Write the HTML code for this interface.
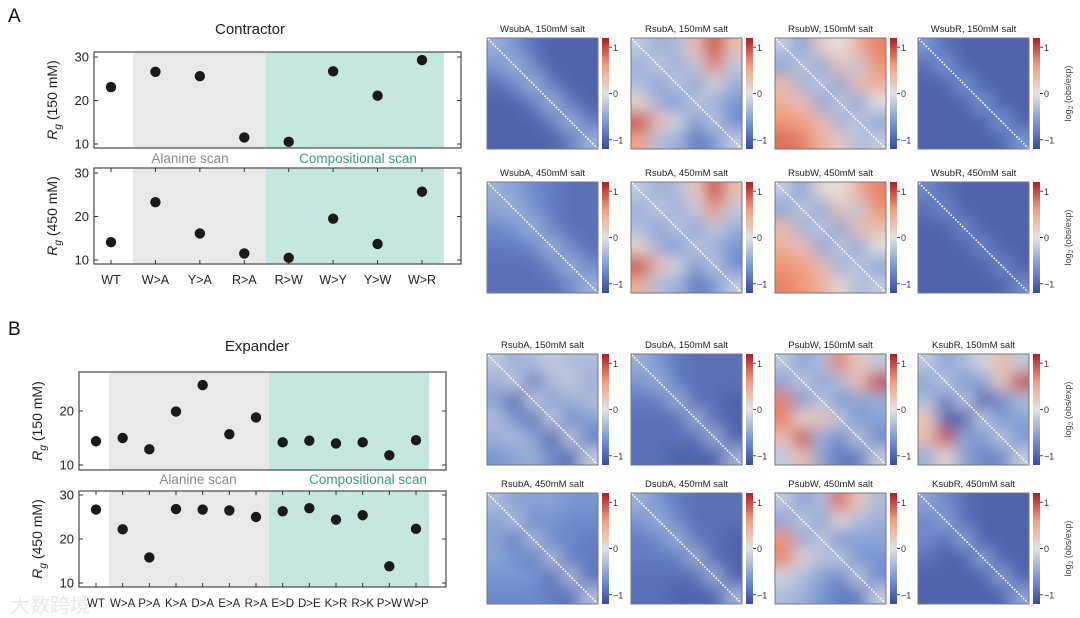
<!DOCTYPE html>
<html><head><meta charset="utf-8"><style>
body{margin:0;background:#fff;}
svg{display:block;font-family:"Liberation Sans","Noto Sans CJK SC",sans-serif;}
</style></head><body>
<svg id="fig" width="1080" height="618" viewBox="0 0 1080 618"></svg>
<script>
// ---- data: dot plots ----
const contractorCats = ["WT","W>A","Y>A","R>A","R>W","W>Y","Y>W","W>R"];
const contractor150 = [23.1,26.6,25.6,11.5,10.5,26.7,21.1,29.3];
const contractor450 = [14.1,23.3,16.1,11.5,10.5,19.5,13.7,25.7];
const expanderCats = ["WT","W>A","P>A","K>A","D>A","E>A","R>A","E>D","D>E","K>R","R>K","P>W","W>P"];
const expander150 = [14.4,15.0,12.9,19.9,24.8,15.7,18.8,14.2,14.5,14.0,14.2,11.8,14.6];
const expander450 = [26.7,22.2,15.8,26.8,26.7,26.5,25.0,26.3,27.0,24.4,25.4,13.8,22.3];
const ticks30 = [10,20,30];
const ticks20 = [10,20];
// ---- data: heatmaps (6x6 coarse grids, log2 obs/exp) ----
const mapTitles = ["WsubA, 150mM salt","RsubA, 150mM salt","RsubW, 150mM salt","WsubR, 150mM salt",
 "WsubA, 450mM salt","RsubA, 450mM salt","RsubW, 450mM salt","WsubR, 450mM salt",
 "RsubA, 150mM salt","DsubA, 150mM salt","PsubW, 150mM salt","KsubR, 150mM salt",
 "RsubA, 450mM salt","DsubA, 450mM salt","PsubW, 450mM salt","KsubR, 450mM salt"];
const mapW150=[[-0.4,-0.6,-0.9,-1,-1,-1],[-0.6,-0.4,-0.7,-1,-1,-1],[-0.9,-0.7,-0.4,-0.8,-1,-1],[-1,-1,-0.8,-0.4,-0.8,-1],[-1,-1,-1,-0.8,-0.4,-0.8],[-1,-1,-1,-1,-0.8,-0.4]];
const mapR150=[[-0.2,-0.4,-0.3,0.3,1.0,0.3],[-0.4,-0.2,-0.4,-0.2,0.7,-0.2],[-0.3,-0.5,-0.2,-0.5,-0.1,-0.4],[0.1,-0.4,-0.6,-0.2,-0.4,-0.6],[1.0,0.3,-0.1,-0.6,-0.2,-0.7],[0.5,-0.3,-0.4,-0.8,-0.6,-0.2]];
const mapRW150=[[-0.2,-0.5,0.2,0.0,0.4,0.7],[-0.5,-0.2,-0.5,0.3,-0.2,0.6],[0.3,-0.4,-0.2,-0.5,0.3,0.4],[0.4,0.3,-0.5,-0.2,-0.5,0.0],[0.6,0.5,0.3,-0.4,-0.2,-0.5],[0.8,0.7,0.4,0.2,-0.3,-0.2]];
const mapWR150=[[-0.6,-0.9,-1,-1,-1,-1],[-0.9,-0.6,-1,-1,-1,-1],[-1,-1,-0.6,-1,-1,-1],[-1,-1,-1,-0.6,-1,-1],[-1,-1,-1,-1,-0.6,-1],[-1,-1,-1,-1,-1,-0.6]];
const mapW450=[[-0.4,-0.5,-0.7,-0.8,-0.9,-0.9],[-0.5,-0.4,-0.6,-0.8,-0.9,-0.9],[-0.7,-0.6,-0.4,-0.7,-0.9,-0.9],[-0.8,-0.8,-0.7,-0.4,-0.7,-0.9],[-0.9,-0.9,-0.9,-0.7,-0.4,-0.7],[-0.9,-0.9,-0.9,-0.9,-0.7,-0.4]];
const mapR450=[[-0.2,-0.4,-0.3,0.2,1.0,0.3],[-0.4,-0.2,-0.4,-0.2,0.6,-0.2],[-0.3,-0.5,-0.2,-0.5,-0.2,-0.4],[0.1,-0.4,-0.6,-0.2,-0.4,-0.6],[1.0,0.3,-0.1,-0.6,-0.2,-0.7],[0.4,-0.3,-0.4,-0.8,-0.6,-0.2]];
const mapRW450=[[-0.2,-0.5,0.1,0.0,0.4,0.7],[-0.5,-0.2,-0.5,0.3,-0.2,0.6],[0.3,-0.4,-0.2,-0.5,0.3,0.3],[0.4,0.3,-0.5,-0.2,-0.5,0.0],[0.6,0.5,0.3,-0.4,-0.2,-0.5],[0.7,0.6,0.4,0.1,-0.3,-0.2]];
const mapWR450=[[-0.7,-0.9,-1,-1,-1,-1],[-0.9,-0.7,-1,-1,-1,-1],[-1,-1,-0.7,-1,-1,-1],[-1,-1,-1,-0.7,-1,-1],[-1,-1,-1,-1,-0.7,-1],[-1,-1,-1,-1,-1,-0.7]];
const mapER150=[[-0.2,-0.4,-0.3,-0.2,-0.3,-0.3],[-0.4,-0.2,-0.8,-0.3,-0.2,-0.4],[-0.5,-1.0,-0.2,-0.5,-0.4,-0.3],[-0.3,-0.6,-0.9,-0.2,-0.7,-0.5],[-0.4,-0.3,-0.5,-1.0,-0.2,-0.8],[-0.6,-0.5,-0.4,-0.7,-0.9,-0.2]];
const mapED150=[[-0.4,-0.6,-0.8,-0.9,-0.9,-0.9],[-0.6,-0.4,-0.8,-0.9,-0.9,-0.9],[-0.8,-0.8,-0.4,-0.9,-0.9,-1],[-0.9,-0.9,-0.9,-0.4,-0.9,-1],[-0.9,-0.9,-0.9,-0.9,-0.4,-1],[-0.9,-0.9,-1,-1,-1,-0.4]];
const mapEP150=[[-0.2,-0.5,-0.3,0.7,0.2,-0.2],[-0.5,-0.2,-0.5,-0.3,0.3,1.0],[0.7,-0.6,-0.2,-0.6,-0.5,-0.4],[0.7,0.1,0.3,-0.2,-0.6,-0.5],[0.3,1.0,-0.4,-0.7,-0.2,-0.7],[-0.2,0.3,-0.5,-0.8,-0.8,-0.2]];
const mapEK150=[[-0.2,-0.5,-0.3,-0.1,0.3,-0.2],[-0.5,-0.2,-0.6,-0.5,0.2,1.0],[-0.3,-0.8,-0.2,-1.0,-0.7,-0.3],[0.2,-1.0,-1.0,-0.2,-0.6,-0.5],[0.3,1.0,-0.5,-0.6,-0.2,-0.6],[-0.4,0.1,-0.5,-0.7,-0.7,-0.2]];
const mapER450=[[-0.3,-0.5,-0.5,-0.5,-0.6,-0.6],[-0.5,-0.3,-0.7,-0.6,-0.7,-0.7],[-0.5,-0.8,-0.3,-0.7,-0.7,-0.8],[-0.5,-0.6,-0.8,-0.3,-0.8,-0.8],[-0.6,-0.6,-0.6,-0.9,-0.3,-0.9],[-0.7,-0.7,-0.7,-0.8,-0.9,-0.3]];
const mapED450=[[-0.4,-0.6,-0.8,-0.9,-0.9,-0.9],[-0.6,-0.4,-0.7,-0.9,-0.9,-0.9],[-0.8,-0.7,-0.4,-0.8,-0.9,-1],[-0.8,-0.8,-0.8,-0.4,-0.9,-1],[-0.9,-0.9,-0.9,-0.9,-0.4,-1],[-0.9,-0.9,-1,-1,-1,-0.4]];
const mapEP450=[[-0.2,-0.5,-0.3,0.8,0.2,-0.3],[-0.5,-0.2,-0.5,0.1,-0.3,-0.4],[0.6,-0.5,-0.2,-0.6,-0.5,-0.5],[0.7,0.1,-0.3,-0.2,-0.6,-0.6],[-0.1,-0.3,-0.5,-0.7,-0.2,-0.7],[-0.3,-0.4,-0.6,-0.8,-0.8,-0.2]];
const mapEK450=[[-0.5,-0.7,-0.9,-1,-1,-1],[-0.7,-0.5,-0.9,-1,-1,-1],[-0.7,-0.9,-0.5,-1,-1,-1],[-0.9,-1,-1,-0.5,-1,-1],[-1,-1,-1,-1,-0.5,-1],[-1,-1,-1,-1,-1,-0.5]];
const mapGrids=[mapW150,mapR150,mapRW150,mapWR150,mapW450,mapR450,mapRW450,mapWR450,mapER150,mapED150,mapEP150,mapEK150,mapER450,mapED450,mapEP450,mapEK450];

const NS="http://www.w3.org/2000/svg";
const svg=document.getElementById('fig');
function mk(tag,attrs,parent,text){const e=document.createElementNS(NS,tag);for(const k in attrs)e.setAttribute(k,attrs[k]);if(text!==undefined)e.textContent=text;(parent||svg).appendChild(e);return e;}

const defs=mk('defs',{});
const blur=mk('filter',{id:'blur',x:'-20%',y:'-20%',width:'140%',height:'140%'},defs);
mk('feGaussianBlur',{stdDeviation:'8'},blur);
const cg=mk('linearGradient',{id:'cbar',x1:0,y1:1,x2:0,y2:0},defs);
[["0%","#3b4a9e"],["25%","#7d9bd3"],["50%","#e2e2e2"],["75%","#f0a080"],["100%","#b01c28"]].forEach(s=>mk('stop',{offset:s[0],'stop-color':s[1]},cg));

function lerp(a,b,t){return Math.round(a+(b-a)*t);}
const stops=[[-1.2,[59,74,158]],[-0.6,[120,150,210]],[0,[226,226,226]],[0.6,[240,150,118]],[1.2,[176,28,40]]];
function cmap(v){v=Math.max(-1.2,Math.min(1.2,v));for(let i=0;i<stops.length-1;i++){const a=stops[i],b=stops[i+1];if(v<=b[0]){const t=(v-a[0])/(b[0]-a[0]);return `rgb(${lerp(a[1][0],b[1][0],t)},${lerp(a[1][1],b[1][1],t)},${lerp(a[1][2],b[1][2],t)})`;}}return 'rgb(176,28,40)';}

function panel(o){
  const g=mk('g',{});
  
  
  const n=o.cats.length;
  const xs=i=>o.x0+(o.x1-o.x0)*i/(n-1);
  const ys=v=>o.yb-(v-10)*(o.yb-o.yt)/20;
  mk('rect',{x:o.L,y:o.T,width:o.gA-o.L,height:o.B-o.T,fill:'#fff'},g);
  const gr=mk('rect',{x:o.gA,y:o.T,width:o.gB-o.gA,height:o.B-o.T,fill:'#e8e8e9'},g);
  
  const tr=mk('rect',{x:o.gB,y:o.T,width:o.gC-o.gB,height:o.B-o.T,fill:'#c5e6df'},g);
  
  mk('rect',{x:o.L,y:o.T,width:o.R-o.L,height:o.B-o.T,fill:'none',stroke:'#555','stroke-width':1.3},g);
  o.ticks.forEach(t=>{const y=ys(t);
    mk('line',{x1:o.L,x2:o.L+4,y1:y,y2:y,stroke:'#333'},g);
    mk('line',{x1:o.R-4,x2:o.R,y1:y,y2:y,stroke:'#333'},g);
    const tl=mk('text',{x:o.L-5,y:y+4.5,'text-anchor':'end','font-size':13,fill:'#222'},g,t);
    
  });
  if(o.xlab){o.cats.forEach((c,i)=>{const x=xs(i);
    mk('line',{x1:x,x2:x,y1:o.B,y2:o.B-4,stroke:'#333'},g);
    mk('line',{x1:x,x2:x,y1:o.T,y2:o.T+4,stroke:'#333'},g);
    const tl=mk('text',{x:x,y:o.B+20,'text-anchor':'middle','font-size':o.xfs,fill:'#222'},g,c);
    });}
  o.vals.forEach((v,i)=>{const c=mk('circle',{cx:xs(i),cy:ys(v),r:5.2,fill:'#1a1a1a'},g);
    });
  const cy=(o.T+o.B)/2;
  const yl=mk('text',{x:0,y:0,transform:`translate(${o.L-37},${cy}) rotate(-90)`,'text-anchor':'middle','font-size':14,fill:'#222'},g);
  
  mk('tspan',{'font-style':'italic'},yl,'R');
  mk('tspan',{'font-style':'italic','font-size':10,dy:4},yl,'g');
  mk('tspan',{dy:-4},yl,' '+o.ylab);
}
function label(x,y,t,fs,fill,name,anchor){const e=mk('text',{x:x,y:y,'font-size':fs,fill:fill,'text-anchor':anchor||'middle'},svg,t);
  return e;}

label(8,22,'A',19,'#111','panel-label-a','start');
label(250,34,'Contractor',15,'#222','contractor-title');
panel({name:'contractor-150-panel',cats:contractorCats,vals:contractor150,ticks:ticks30,L:94,R:461,T:52,B:148,x0:111,x1:422,gA:133,gB:266,gC:444,yt:57,yb:144,ylab:'(150 mM)',xlab:false});
label(190,163,'Alanine scan',13.5,'#8a8a8a','alanine-scan-label');
label(358,163,'Compositional scan',13.5,'#3a9a86','compositional-scan-label');
panel({name:'contractor-450-panel',cats:contractorCats,vals:contractor450,ticks:ticks30,L:94,R:461,T:168,B:264,x0:111,x1:422,gA:133,gB:266,gC:444,yt:173,yb:260,ylab:'(450 mM)',xlab:true,xfs:12.5});

label(8,335,'B',19,'#111','panel-label-b','start');
label(257,351,'Expander',15,'#222','expander-title');
panel({name:'expander-150-panel',cats:expanderCats,vals:expander150,ticks:ticks20,L:79,R:446,T:372,B:470,x0:96,x1:416,gA:109,gB:269,gC:429,yt:357,yb:465,ylab:'(150 mM)',xlab:false});
label(198,484,'Alanine scan',13.5,'#8a8a8a','alanine-scan-label-b');
label(368,484,'Compositional scan',13.5,'#3a9a86','compositional-scan-label-b');
panel({name:'expander-450-panel',cats:expanderCats,vals:expander450,ticks:ticks30,L:79,R:446,T:491,B:587,x0:96,x1:416,gA:109,gB:269,gC:429,yt:495,yb:583,ylab:'(450 mM)',xlab:true,xfs:11.5});
label(10,612,'大数跨境',20,'rgba(210,210,210,0.5)','watermark','start');

const colX=[487,631,775,918];
const rowY=[38,182,354,493];
mapGrids.forEach((grid,k)=>{
  const x0=colX[k%4], y0=rowY[Math.floor(k/4)], S=111;
  const g=mk('g',{});
  
  
  const t=mk('text',{x:x0+S/2,y:y0-6,'text-anchor':'middle','font-size':9.5,fill:'#222'},g,mapTitles[k]);
  
  const cid='clip'+k;
  const cp=mk('clipPath',{id:cid},defs);mk('rect',{x:x0,y:y0,width:S,height:S},cp);
  const cl=mk('g',{'clip-path':`url(#${cid})`},g);
  const bl=mk('g',{filter:'url(#blur)'},cl);
  const n=grid.length, c=S/n;
  grid.forEach((row,i)=>row.forEach((v,j)=>{
    const ex=25;
    const x=x0+j*c-(j===0?ex:0), y=y0+i*c-(i===0?ex:0);
    const w=c+(j===0?ex:0)+(j===n-1?ex:0)+0.5, h=c+(i===0?ex:0)+(i===n-1?ex:0)+0.5;
    const r=mk('rect',{x:x,y:y,width:w,height:h,fill:cmap(v)},bl);
    
  }));
  mk('line',{x1:x0+1,y1:y0+1,x2:x0+S-1,y2:y0+S-1,stroke:'#fff','stroke-width':1.6,'stroke-dasharray':'1.6,1.6'},g);
  mk('rect',{x:x0,y:y0,width:S,height:S,fill:'none',stroke:'#777','stroke-width':1},g);
  const cb=mk('rect',{x:x0+S+4,y:y0,width:7,height:S,fill:'url(#cbar)'},g);
  
  [[1,'1'],[0,'0'],[-1,'\u22121']].forEach(tk=>{const yy=y0+S*(1.2-tk[0])/2.4;
    mk('line',{x1:x0+S+11,x2:x0+S+14,y1:yy,y2:yy,stroke:'#444'},g);
    const tl=mk('text',{x:x0+S+15,y:yy+3.5,'font-size':9,fill:'#333'},g,tk[1]);
    });
  if(k%4===3){const lt=mk('text',{transform:`translate(${x0+S+42},${y0+S/2}) rotate(-90)`,'text-anchor':'middle','font-size':9,fill:'#444'},g);
    
    mk('tspan',{},lt,'log');mk('tspan',{'font-size':6.5,dy:2},lt,'2');mk('tspan',{dy:-2},lt,' (obs/exp)');}
});
</script>
</body></html>
